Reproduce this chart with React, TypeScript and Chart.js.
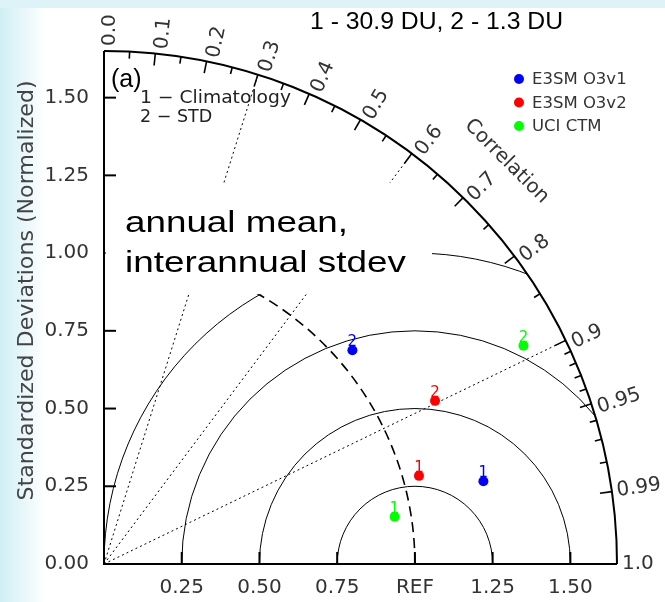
import React, { useEffect, useRef } from 'react';
import { Chart, registerables } from 'chart.js';

Chart.register(...registerables);

// ---------------- data ----------------
const models = ['E3SM O3v1', 'E3SM O3v2', 'UCI CTM'];
const modelColors = ['#0000ff', '#ff0000', '#00ff00'];
const caseLabels = ['1', '2'];
// case 1 : climatology (annual mean)
const stdClim = [1.249, 1.052, 0.947];
const corrClim = [0.977, 0.963, 0.987];
// case 2 : interannual STD
const stdIav = [1.054, 1.187, 1.521];
const corrIav = [0.758, 0.897, 0.887];

const stdMax = 1.65;
const refStd = 1.0;
const yTickValues = [0, 0.25, 0.5, 0.75, 1.0, 1.25, 1.5];
const yTickLabels = ['0.00', '0.25', '0.50', '0.75', '1.00', '1.25', '1.50'];
const xTickValues = [0.25, 0.5, 0.75, 1.0, 1.25, 1.5];
const xTickLabels = ['0.25', '0.50', '0.75', 'REF', '1.25', '1.50'];
const corrLabelValues = [0.0, 0.1, 0.2, 0.3, 0.4, 0.5, 0.6, 0.7, 0.8, 0.9, 0.95, 0.99, 1.0];
const corrLabelTexts = ['0.0', '0.1', '0.2', '0.3', '0.4', '0.5', '0.6', '0.7', '0.8', '0.9', '0.95', '0.99', '1.0'];
const corrMajor = [0.1, 0.2, 0.3, 0.4, 0.5, 0.6, 0.7, 0.8, 0.9, 0.95, 0.99];
const corrMinor = [0.05, 0.15, 0.25, 0.35, 0.45, 0.55, 0.65, 0.75, 0.85, 0.91, 0.92, 0.93, 0.94, 0.96, 0.97, 0.98];
const corrDotted = [0.3, 0.6, 0.9];
const rmsRadii = [0.25, 0.5, 0.75, 1.0];

const titleText = '1 - 30.9 DU, 2 - 1.3 DU';
const panelText = '(a)';
const caseTexts = ['1 \u2212 Climatology', '2 \u2212 STD'];
const boxTexts = ['annual mean,', 'interannual stdev'];
const yAxisTitle = 'Standardized Deviations (Normalized)';
const corrTitle = 'Correlation';

const NCL = '"DejaVu Sans", sans-serif';
const ARIAL = '"Liberation Sans", Arial, sans-serif';

type TxtOpts = {
  font: string;
  color?: string;
  align?: CanvasTextAlign;
  base?: CanvasTextBaseline;
  rot?: number;
  w?: number;
  dy?: number;
};

function txt(ctx: CanvasRenderingContext2D, s: string, x: number, y: number, o: TxtOpts) {
  ctx.save();
  ctx.translate(x, y);
  if (o.rot) ctx.rotate(o.rot);
  ctx.font = o.font;
  ctx.fillStyle = o.color || '#333';
  ctx.textAlign = o.align || 'left';
  ctx.textBaseline = o.base || 'alphabetic';
  if (o.w) {
    const m = ctx.measureText(s).width;
    ctx.scale(o.w / m, 1);
  }
  ctx.fillText(s, 0, o.dy || 0);
  ctx.restore();
}

const taylorPlugin = {
  id: 'taylor',
  beforeDraw(chart: any) {
    const { ctx, width, height } = chart;
    ctx.save();
    ctx.fillStyle = '#ffffff';
    ctx.fillRect(0, 0, width, height);
    let g = ctx.createLinearGradient(0, 0, 46, 0);
    g.addColorStop(0, 'rgba(208,238,244,1)');
    g.addColorStop(1, 'rgba(208,238,244,0)');
    ctx.fillStyle = g;
    ctx.fillRect(0, 0, 46, height);
    ctx.fillStyle = 'rgba(222,243,247,1)';
    ctx.fillRect(0, 0, width, 8);
    ctx.restore();
  },
  beforeDatasetsDraw(chart: any) {
    const { ctx } = chart;
    const xs = chart.scales.x;
    const ys = chart.scales.y;
    const px = (v: number) => xs.getPixelForValue(v);
    const py = (v: number) => ys.getPixelForValue(v);
    const x0 = px(0);
    const y0 = py(0);
    const ppu = px(1) - px(0);
    const R = stdMax * ppu;

    ctx.save();
    ctx.strokeStyle = '#000';

    // interior lines clipped to the quarter disk
    ctx.save();
    ctx.beginPath();
    ctx.moveTo(x0, y0);
    ctx.arc(x0, y0, R, -Math.PI / 2, 0);
    ctx.closePath();
    ctx.clip();
    ctx.lineWidth = 1;
    rmsRadii.forEach((r) => {
      ctx.beginPath();
      ctx.arc(px(refStd), y0, r * ppu, Math.PI, 2 * Math.PI);
      ctx.stroke();
    });
    ctx.setLineDash([2, 3]);
    corrDotted.forEach((c) => {
      const t = Math.acos(c);
      ctx.beginPath();
      ctx.moveTo(x0, y0);
      ctx.lineTo(x0 + R * Math.cos(t), y0 - R * Math.sin(t));
      ctx.stroke();
    });
    ctx.setLineDash([10, 6]);
    ctx.lineWidth = 1.6;
    ctx.beginPath();
    ctx.arc(x0, y0, refStd * ppu, 0, -Math.PI / 2, true);
    ctx.stroke();
    ctx.restore();

    // frame
    ctx.lineWidth = 2;
    ctx.beginPath();
    ctx.arc(x0, y0, R, -Math.PI / 2, 0);
    ctx.stroke();
    ctx.beginPath();
    ctx.moveTo(x0, y0 - R);
    ctx.lineTo(x0, y0);
    ctx.lineTo(x0 + R, y0);
    ctx.stroke();

    // axis ticks
    yTickValues.forEach((v) => {
      if (v === 0) return;
      ctx.beginPath();
      ctx.moveTo(x0, py(v));
      ctx.lineTo(x0 + 12, py(v));
      ctx.stroke();
    });
    xTickValues.forEach((v) => {
      ctx.beginPath();
      ctx.moveTo(px(v), y0);
      ctx.lineTo(px(v), y0 - 12);
      ctx.stroke();
    });
    // correlation ticks
    ctx.lineWidth = 1.6;
    const corrTick = (c: number, len: number) => {
      const t = Math.acos(c);
      ctx.beginPath();
      ctx.moveTo(x0 + R * Math.cos(t), y0 - R * Math.sin(t));
      ctx.lineTo(x0 + (R - len) * Math.cos(t), y0 - (R - len) * Math.sin(t));
      ctx.stroke();
    };
    corrMajor.forEach((c) => corrTick(c, 12));
    corrMinor.forEach((c) => corrTick(c, 7));

    // tick labels
    yTickValues.forEach((v, i) => {
      txt(ctx, yTickLabels[i], x0 - 15, py(v), { font: `20px ${NCL}`, align: 'right', base: 'middle', color: '#333' });
    });
    xTickValues.forEach((v, i) => {
      txt(ctx, xTickLabels[i], px(v), y0 + 29, { font: `20px ${NCL}`, align: 'center', base: 'alphabetic', color: '#333' });
    });
    corrLabelValues.forEach((c, i) => {
      const t = Math.acos(c);
      const rr = R + 5;
      txt(ctx, corrLabelTexts[i], x0 + rr * Math.cos(t), y0 - rr * Math.sin(t), {
        font: `20px ${NCL}`,
        align: 'left',
        base: 'middle',
        rot: -t,
        dy: c >= 0.99 ? 0 : 6,
        color: '#333',
      });
    });
    // axis titles
    txt(ctx, yAxisTitle, 33, py(0.88), { font: `22px ${NCL}`, align: 'center', base: 'alphabetic', rot: -Math.PI / 2, color: '#444', w: 420 });
    const ct = Math.PI / 4;
    const cr = stdMax * 1.11 * ppu;
    txt(ctx, corrTitle, x0 + cr * Math.cos(ct), y0 - cr * Math.sin(ct), { font: `20px ${NCL}`, align: 'center', base: 'middle', rot: ct, color: '#333' });

    // white annotation box
    ctx.fillStyle = '#ffffff';
    const bx0 = px(0.005);
    const bx1 = px(1.055);
    const by0 = py(1.2255);
    const by1 = py(0.868);
    ctx.fillRect(bx0, by0, bx1 - bx0, by1 - by0);
    txt(ctx, boxTexts[0], 125, 232, { font: `30px ${ARIAL}`, color: '#000', w: 223 });
    txt(ctx, boxTexts[1], 125, 272, { font: `30px ${ARIAL}`, color: '#000', w: 281 });

    // other texts
    txt(ctx, titleText, 310, 29, { font: `24px ${ARIAL}`, color: '#000', w: 253 });
    txt(ctx, panelText, 111, 87, { font: `25px ${ARIAL}`, color: '#000' });
    txt(ctx, caseTexts[0], 140, 103, { font: `17.5px ${NCL}`, color: '#222', w: 151 });
    txt(ctx, caseTexts[1], 140, 122, { font: `17.5px ${NCL}`, color: '#222' });

    // legend
    models.forEach((m, i) => {
      const ly = 79 + i * 23.5;
      ctx.fillStyle = modelColors[i];
      ctx.beginPath();
      ctx.arc(519, ly, 5, 0, 2 * Math.PI);
      ctx.fill();
      txt(ctx, m, 532, ly + 1, { font: `16.5px ${NCL}`, color: '#333', base: 'middle' });
    });
    ctx.restore();
  },
  afterDatasetsDraw(chart: any) {
    const { ctx } = chart;
    chart.data.datasets.forEach((ds: any, di: number) => {
      const meta = chart.getDatasetMeta(di);
      meta.data.forEach((pt: any, i: number) => {
        txt(ctx, caseLabels[i], pt.x, pt.y - 4, { font: `15px ${NCL}`, align: 'center', color: ds.pointBackgroundColor });
      });
    });
  },
};

export default function App() {
  const ref = useRef<HTMLCanvasElement | null>(null);
  useEffect(() => {
    if (!ref.current) return;
    const datasets = models.map((m, i) => ({
      label: m,
      data: [
        { x: stdClim[i] * corrClim[i], y: stdClim[i] * Math.sqrt(1 - corrClim[i] * corrClim[i]) },
        { x: stdIav[i] * corrIav[i], y: stdIav[i] * Math.sqrt(1 - corrIav[i] * corrIav[i]) },
      ],
      pointRadius: 5,
      pointBackgroundColor: modelColors[i],
      pointBorderWidth: 0,
      pointBorderColor: modelColors[i],
      showLine: false,
    }));
    const chart = new Chart(ref.current, {
      type: 'scatter',
      data: { datasets },
      options: {
        responsive: false,
        animation: false,
        devicePixelRatio: 1,
        layout: { padding: { left: 104, right: 48, top: 51, bottom: 38 } },
        scales: {
          x: { type: 'linear', min: 0, max: stdMax, display: false },
          y: { type: 'linear', min: 0, max: stdMax, display: false },
        },
        plugins: { legend: { display: false }, tooltip: { enabled: false } },
      },
      plugins: [taylorPlugin],
    } as any);
    return () => chart.destroy();
  }, []);
  return (
    <div style={{ position: 'absolute', left: 0, top: 0, width: 665, height: 602 }}>
      <canvas ref={ref} width={665} height={602} style={{ display: 'block' }} />
    </div>
  );
}
